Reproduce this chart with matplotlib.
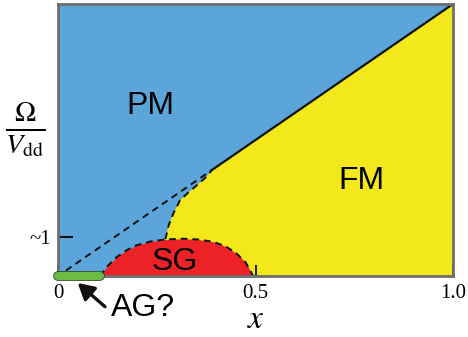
import numpy as np
import matplotlib
matplotlib.use("Agg")
import matplotlib.pyplot as plt
from matplotlib.patches import Polygon

# ---- data ----
line_x = [0.0, 1.0]            # PM / FM straight boundary
line_y = [0.0, 7.0]
junction_x = 0.39              # where solid part of line starts

curve_x = [0.272, 0.280, 0.292, 0.309, 0.330, 0.351, 0.372, 0.390]   # FM / PM curved boundary
curve_y = [0.95, 1.30, 1.61, 1.95, 2.15, 2.33, 2.52, 2.73]

dome_x = [0.106, 0.125, 0.149, 0.175, 0.199, 0.235, 0.271, 0.317, 0.355, 0.393, 0.425, 0.452, 0.475, 0.494]
dome_y = [0.0, 0.25, 0.49, 0.67, 0.79, 0.89, 0.94, 0.96, 0.94, 0.88, 0.76, 0.58, 0.35, 0.0]

ag_x = [0.0, 0.106]            # AG? segment on x axis

x_ticks = [0.0, 0.5, 1.0]
x_ticklabels = ["0", "0.5", "1.0"]
y_ticks = [1.0]
y_ticklabels = ["~1"]

labels = {"PM": (0.233, 4.38), "FM": (0.767, 2.44), "SG": (0.296, 0.36)}
ag_label = ("AG?", 0.215, -0.82)
ag_arrow_tail = (0.119, -0.79)
ag_arrow_head = (0.05, -0.18)

BLUE = "#5ba5da"
YELLOW = "#f2e81b"
RED = "#ec2227"
GREEN = "#6cbb45"

plt.rcParams["mathtext.fontset"] = "stix"

fig = plt.figure(figsize=(4.68, 3.37), dpi=100)
ax = fig.add_axes([58/468, 1-276/337, (453-58)/468, (276-4)/337])
ax.set_xlim(line_x[0], line_x[1])
ax.set_ylim(0, line_y[1])
ax.set_facecolor(BLUE)

jy = float(np.interp(junction_x, line_x, line_y))

# yellow FM region
fm_pts = [(junction_x, jy), (line_x[1], line_y[1]), (line_x[1], 0.0), (curve_x[0], 0.0)]
fm_pts += list(zip(curve_x, curve_y))
ax.add_patch(Polygon(fm_pts, closed=True, facecolor=YELLOW, edgecolor="none", zorder=1))

# red SG dome
ax.fill_between(dome_x, 0, dome_y, color=RED, lw=0, zorder=2)
ax.plot(dome_x, dome_y, color="#111111", lw=1.4, ls=(0, (3.5, 2.5)), zorder=3)

# boundaries
ax.plot([junction_x, line_x[1]], [jy, line_y[1]], color="#111111", lw=1.6, zorder=3)
ax.plot([0.02, junction_x], [np.interp(0.02, line_x, line_y), jy], color="#111111",
        lw=1.4, ls=(0, (3.5, 2.5)), zorder=3)
ax.plot(curve_x, curve_y, color="#111111", lw=1.4, ls=(0, (3.5, 2.5)), zorder=3)

# AG? green bar
ax.plot(ag_x, [0, 0], color="#2d4a1e", lw=7.0, solid_capstyle="round", clip_on=False, zorder=9)
ax.plot(ag_x, [0, 0], color=GREEN, lw=5.8, solid_capstyle="round", clip_on=False, zorder=10)

# region labels
for name, (lx, ly) in labels.items():
    ax.text(lx, ly, name, fontsize=23, family="Liberation Sans", ha="center", va="center", zorder=7)

ax.text(ag_label[1], ag_label[2], ag_label[0], fontsize=23, family="Liberation Sans",
        ha="center", va="center", clip_on=False)
ax.annotate("", xy=ag_arrow_head, xytext=ag_arrow_tail, annotation_clip=False,
            arrowprops=dict(arrowstyle="-|>,head_length=0.8,head_width=0.45", color="#111111",
                            lw=2.4, shrinkA=0, shrinkB=0, mutation_scale=12))

# spines
for s in ax.spines.values():
    s.set_color("#6e6e6e")
    s.set_linewidth(2.0)
    s.set_zorder(8)

ax.set_xticks(x_ticks)
ax.set_xticklabels(x_ticklabels, family="Liberation Serif", fontsize=15)
ax.set_yticks(y_ticks)
ax.set_yticklabels(y_ticklabels, family="Liberation Serif", fontsize=15)
ax.tick_params(axis="x", direction="in", length=8, width=1.3, color="#111111", pad=6)
ax.tick_params(axis="y", direction="in", length=11, width=1.5, color="#111111", pad=5)

ax.set_xlabel(r"$x$", fontsize=24, labelpad=-1)
fig.text(25/468, 1-130/337, r"$\frac{\Omega}{V_{\rm dd}}$", fontsize=29, ha="center", va="center")

fig.savefig("out.png", dpi=100)
